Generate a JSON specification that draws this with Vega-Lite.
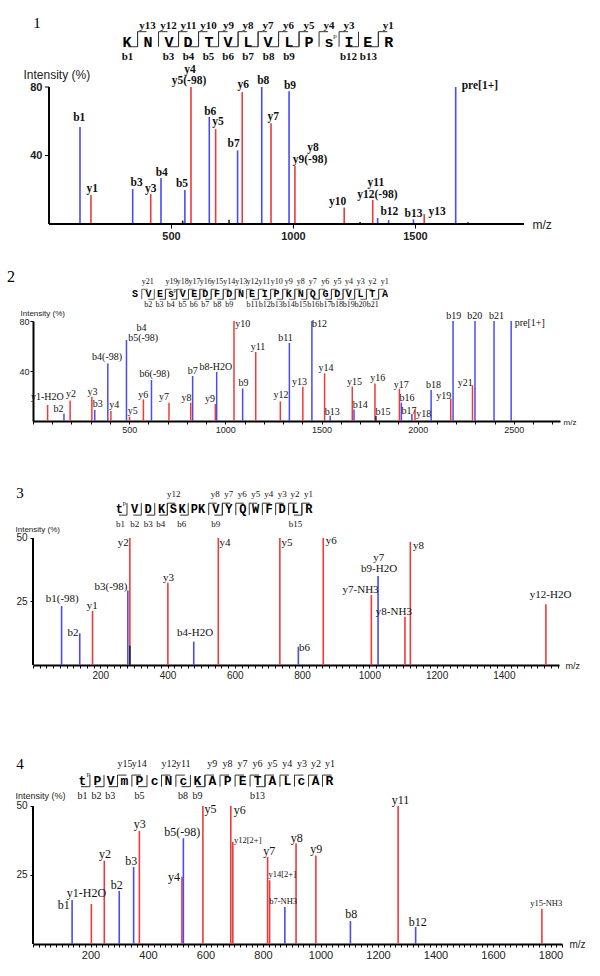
{
"$schema": "https://vega.github.io/schema/vega-lite/v6.json",
"background": "white",
"padding": {"left": 7, "top": 15, "right": 0, "bottom": 0},
"bounds": "flush",
"spacing": 97,
"config": {"view": {"stroke": null}, "axis": {"grid": false, "labelOverlap": false, "labelFlush": false, "tickColor": "#000", "domainColor": "#000", "labelColor": "#222", "titleColor": "#222", "titleFontWeight": "normal", "labelFont": "Liberation Sans", "titleFont": "Liberation Sans"}, "text": {"baseline": "middle", "align": "center", "color": "#111"}},
"datasets": {
"peaks": [
{"p":1,"mz":127,"i":56.6,"t":"b"},{"p":1,"mz":172,"i":17,"t":"y"},{"p":1,"mz":343,"i":20.4,"t":"b"},{"p":1,"mz":417,"i":17.5,"t":"y"},{"p":1,"mz":459,"i":26.8,"t":"b"},{"p":1,"mz":548,"i":2,"t":"o"},{"p":1,"mz":557,"i":19.8,"t":"b"},{"p":1,"mz":582,"i":80,"t":"y"},{"p":1,"mz":657,"i":62.5,"t":"b"},{"p":1,"mz":683,"i":55.4,"t":"y"},{"p":1,"mz":738,"i":2.5,"t":"o"},{"p":1,"mz":773,"i":43,"t":"b"},{"p":1,"mz":792,"i":77,"t":"y"},{"p":1,"mz":872,"i":80,"t":"b"},{"p":1,"mz":910,"i":58.8,"t":"y"},{"p":1,"mz":984,"i":77.5,"t":"b"},{"p":1,"mz":1008,"i":33.9,"t":"y"},{"p":1,"mz":1210,"i":9.7,"t":"y"},{"p":1,"mz":1275,"i":1.2,"t":"o"},{"p":1,"mz":1327,"i":14,"t":"y"},{"p":1,"mz":1347,"i":3.5,"t":"b"},{"p":1,"mz":1392,"i":2.3,"t":"b"},{"p":1,"mz":1494,"i":2.7,"t":"b"},{"p":1,"mz":1538,"i":5.8,"t":"y"},{"p":1,"mz":1667,"i":80,"t":"b"},{"p":1,"mz":1717,"i":1,"t":"o"},
{"p":2,"mz":76,"i":12.8,"t":"y"},{"p":2,"mz":161,"i":6.1,"t":"b"},{"p":2,"mz":193,"i":16.5,"t":"y"},{"p":2,"mz":306,"i":19.5,"t":"y"},{"p":2,"mz":321,"i":8.8,"t":"b"},{"p":2,"mz":389,"i":46.1,"t":"b"},{"p":2,"mz":405,"i":8,"t":"y"},{"p":2,"mz":486,"i":64.8,"t":"b"},{"p":2,"mz":502,"i":3.5,"t":"y"},{"p":2,"mz":574,"i":17.3,"t":"y"},{"p":2,"mz":616,"i":32.8,"t":"b"},{"p":2,"mz":707,"i":14.7,"t":"y"},{"p":2,"mz":820,"i":14.7,"t":"y"},{"p":2,"mz":830,"i":36,"t":"b"},{"p":2,"mz":948,"i":13.6,"t":"y"},{"p":2,"mz":955,"i":39.2,"t":"b"},{"p":2,"mz":1045,"i":80,"t":"y"},{"p":2,"mz":1090,"i":26.1,"t":"b"},{"p":2,"mz":1158,"i":55.2,"t":"y"},{"p":2,"mz":1286,"i":15.7,"t":"y"},{"p":2,"mz":1333,"i":62.4,"t":"b"},{"p":2,"mz":1403,"i":27.5,"t":"y"},{"p":2,"mz":1450,"i":80,"t":"b"},{"p":2,"mz":1516,"i":38.1,"t":"y"},{"p":2,"mz":1545,"i":4.3,"t":"b"},{"p":2,"mz":1660,"i":27.5,"t":"y"},{"p":2,"mz":1669,"i":9.3,"t":"b"},{"p":2,"mz":1778,"i":30.1,"t":"y"},{"p":2,"mz":1783,"i":4,"t":"o"},{"p":2,"mz":1905,"i":25.9,"t":"y"},{"p":2,"mz":1915,"i":14.7,"t":"b"},{"p":2,"mz":1970,"i":5.6,"t":"b"},{"p":2,"mz":1986,"i":9.3,"t":"y"},{"p":2,"mz":2070,"i":24.8,"t":"b"},{"p":2,"mz":2172,"i":18.1,"t":"y"},{"p":2,"mz":2184,"i":80,"t":"b"},{"p":2,"mz":2285,"i":28.5,"t":"y"},{"p":2,"mz":2298,"i":80,"t":"b"},{"p":2,"mz":2397,"i":80,"t":"b"},{"p":2,"mz":2486,"i":80,"t":"b"},
{"p":3,"mz":85,"i":23.2,"t":"b"},{"p":3,"mz":139,"i":12.5,"t":"b"},{"p":3,"mz":177,"i":21.3,"t":"y"},{"p":3,"mz":282,"i":29.3,"t":"b"},{"p":3,"mz":288,"i":50,"t":"y"},{"p":3,"mz":288,"i":7.6,"t":"o"},{"p":3,"mz":401,"i":32.4,"t":"y"},{"p":3,"mz":478,"i":9.2,"t":"b"},{"p":3,"mz":551,"i":50,"t":"y"},{"p":3,"mz":734,"i":50,"t":"y"},{"p":3,"mz":789,"i":7.2,"t":"b"},{"p":3,"mz":863,"i":50,"t":"y"},{"p":3,"mz":1006,"i":27.6,"t":"y"},{"p":3,"mz":1026,"i":35,"t":"b"},{"p":3,"mz":1106,"i":19,"t":"y"},{"p":3,"mz":1122,"i":48.5,"t":"y"},{"p":3,"mz":1525,"i":23.9,"t":"y"},
{"p":4,"mz":136,"i":15.9,"t":"b"},{"p":4,"mz":203,"i":14.5,"t":"y"},{"p":4,"mz":248,"i":30.2,"t":"y"},{"p":4,"mz":300,"i":19.2,"t":"b"},{"p":4,"mz":350,"i":27.9,"t":"b"},{"p":4,"mz":370,"i":41,"t":"y"},{"p":4,"mz":518,"i":24.4,"t":"y"},{"p":4,"mz":523,"i":38.3,"t":"b"},{"p":4,"mz":591,"i":50,"t":"y"},{"p":4,"mz":688,"i":50,"t":"y"},{"p":4,"mz":695,"i":37,"t":"y"},{"p":4,"mz":816,"i":31.5,"t":"y"},{"p":4,"mz":823,"i":23.1,"t":"y"},{"p":4,"mz":876,"i":13.4,"t":"b"},{"p":4,"mz":915,"i":36.5,"t":"y"},{"p":4,"mz":984,"i":32.1,"t":"y"},{"p":4,"mz":1104,"i":8.3,"t":"b"},{"p":4,"mz":1270,"i":50,"t":"y"},{"p":4,"mz":1331,"i":6.2,"t":"b"},{"p":4,"mz":1770,"i":12.8,"t":"y"}
],
"labels": [
{"p":1,"lx":124,"ly":61.7,"l":"b1"},{"p":1,"lx":177,"ly":20.4,"l":"y1"},{"p":1,"lx":359,"ly":24.1,"l":"b3"},{"p":1,"lx":417,"ly":20.4,"l":"y3"},{"p":1,"lx":462,"ly":30,"l":"b4"},{"p":1,"lx":545,"ly":23.2,"l":"b5"},{"p":1,"lx":578,"ly":89.8,"l":"y4"},{"p":1,"lx":574,"ly":83.3,"l":"y5(-98)"},{"p":1,"lx":661,"ly":65.6,"l":"b6"},{"p":1,"lx":693,"ly":59.4,"l":"y5"},{"p":1,"lx":757,"ly":46.7,"l":"b7"},{"p":1,"lx":796,"ly":81,"l":"y6"},{"p":1,"lx":878,"ly":83.5,"l":"b8"},{"p":1,"lx":919,"ly":62.3,"l":"y7"},{"p":1,"lx":988,"ly":80.6,"l":"b9"},{"p":1,"lx":1082,"ly":44.4,"l":"y8"},{"p":1,"lx":1070,"ly":37.6,"l":"y9(-98)"},{"p":1,"lx":1183,"ly":12.7,"l":"y10"},{"p":1,"lx":1340,"ly":24,"l":"y11"},{"p":1,"lx":1346,"ly":17,"l":"y12(-98)"},{"p":1,"lx":1395,"ly":6.8,"l":"b12"},{"p":1,"lx":1494,"ly":5.7,"l":"b13"},{"p":1,"lx":1591,"ly":7,"l":"y13"},{"p":1,"lx":1766,"ly":80.6,"l":"pre[1+]"},
{"p":2,"lx":75,"ly":19.5,"l":"y1-H2O"},{"p":2,"lx":132,"ly":9.3,"l":"b2"},{"p":2,"lx":198,"ly":21.3,"l":"y2"},{"p":2,"lx":309,"ly":23.5,"l":"y3"},{"p":2,"lx":337,"ly":13.3,"l":"b3"},{"p":2,"lx":385,"ly":51,"l":"b4(-98)"},{"p":2,"lx":422,"ly":12.8,"l":"y4"},{"p":2,"lx":564,"ly":74.1,"l":"b4"},{"p":2,"lx":573,"ly":66.1,"l":"b5(-98)"},{"p":2,"lx":519,"ly":8.3,"l":"y5"},{"p":2,"lx":573,"ly":20.8,"l":"y6"},{"p":2,"lx":632,"ly":37.3,"l":"b6(-98)"},{"p":2,"lx":681,"ly":18.9,"l":"y7"},{"p":2,"lx":798,"ly":18.1,"l":"y8"},{"p":2,"lx":830,"ly":39.7,"l":"b7"},{"p":2,"lx":920,"ly":17.3,"l":"y9"},{"p":2,"lx":951,"ly":43.5,"l":"b8-H2O"},{"p":2,"lx":1090,"ly":77.3,"l":"y10"},{"p":2,"lx":1094,"ly":30.7,"l":"b9"},{"p":2,"lx":1170,"ly":58.9,"l":"y11"},{"p":2,"lx":1290,"ly":20.5,"l":"y12"},{"p":2,"lx":1313,"ly":66.4,"l":"b11"},{"p":2,"lx":1385,"ly":31.2,"l":"y13"},{"p":2,"lx":1490,"ly":77.6,"l":"b12"},{"p":2,"lx":1524,"ly":42.1,"l":"y14"},{"p":2,"lx":1556,"ly":7.5,"l":"b13"},{"p":2,"lx":1672,"ly":31.5,"l":"y15"},{"p":2,"lx":1701,"ly":12.8,"l":"b14"},{"p":2,"lx":1792,"ly":34.4,"l":"y16"},{"p":2,"lx":1820,"ly":7.2,"l":"b15"},{"p":2,"lx":1915,"ly":29.1,"l":"y17"},{"p":2,"lx":1944,"ly":18.7,"l":"b16"},{"p":2,"lx":1955,"ly":8.3,"l":"b17"},{"p":2,"lx":2031,"ly":5.6,"l":"y18"},{"p":2,"lx":2082,"ly":28.5,"l":"b18"},{"p":2,"lx":2135,"ly":20,"l":"y19"},{"p":2,"lx":2188,"ly":84,"l":"b19"},{"p":2,"lx":2248,"ly":30.7,"l":"y21"},{"p":2,"lx":2297,"ly":84,"l":"b20"},{"p":2,"lx":2410,"ly":84,"l":"b21"},{"p":2,"lx":2583,"ly":78.1,"l":"pre[1+]"},
{"p":3,"lx":87,"ly":26,"l":"b1(-98)"},{"p":3,"lx":119,"ly":12.5,"l":"b2"},{"p":3,"lx":176,"ly":23.4,"l":"y1"},{"p":3,"lx":232,"ly":30.7,"l":"b3(-98)"},{"p":3,"lx":268,"ly":48.2,"l":"y2"},{"p":3,"lx":403,"ly":34.4,"l":"y3"},{"p":3,"lx":482,"ly":12.7,"l":"b4-H2O"},{"p":3,"lx":571,"ly":48.2,"l":"y4"},{"p":3,"lx":755,"ly":48.2,"l":"y5"},{"p":3,"lx":807,"ly":6.6,"l":"b6"},{"p":3,"lx":887,"ly":48.8,"l":"y6"},{"p":3,"lx":1028,"ly":42,"l":"y7"},{"p":3,"lx":1029,"ly":37.7,"l":"b9-H2O"},{"p":3,"lx":974,"ly":29.5,"l":"y7-NH3"},{"p":3,"lx":1073,"ly":21,"l":"y8-NH3"},{"p":3,"lx":1146,"ly":46.9,"l":"y8"},{"p":3,"lx":1539,"ly":27.6,"l":"y12-H2O"},
{"p":4,"lx":107,"ly":14.1,"l":"b1"},{"p":4,"lx":186,"ly":18.6,"l":"y1-H2O"},{"p":4,"lx":250,"ly":32.6,"l":"y2"},{"p":4,"lx":291,"ly":21.4,"l":"b2"},{"p":4,"lx":342,"ly":30.2,"l":"b3"},{"p":4,"lx":371,"ly":43.5,"l":"y3"},{"p":4,"lx":490,"ly":24.4,"l":"y4"},{"p":4,"lx":519,"ly":40.7,"l":"b5(-98)"},{"p":4,"lx":617,"ly":48.9,"l":"y5"},{"p":4,"lx":719,"ly":48.6,"l":"y6"},{"p":4,"lx":747,"ly":37.7,"l":"y12[2+]"},{"p":4,"lx":822,"ly":33.8,"l":"y7"},{"p":4,"lx":867,"ly":25.3,"l":"y14[2+]"},{"p":4,"lx":870,"ly":15.7,"l":"b7-NH3"},{"p":4,"lx":917,"ly":38.3,"l":"y8"},{"p":4,"lx":985,"ly":34.4,"l":"y9"},{"p":4,"lx":1107,"ly":10.8,"l":"b8"},{"p":4,"lx":1278,"ly":52.2,"l":"y11"},{"p":4,"lx":1338,"ly":8.1,"l":"b12"},{"p":4,"lx":1785,"ly":14.7,"l":"y15-NH3"}
],
"seq": [
{"p":1,"x":320,"aa":"K"},{"p":1,"x":406,"aa":"N"},{"p":1,"x":492,"aa":"V"},{"p":1,"x":570,"aa":"D"},{"p":1,"x":656,"aa":"T"},{"p":1,"x":734,"aa":"V"},{"p":1,"x":816,"aa":"L"},{"p":1,"x":898,"aa":"V"},{"p":1,"x":984,"aa":"L"},{"p":1,"x":1066,"aa":"P"},{"p":1,"x":1148,"aa":"s","sup":"p"},{"p":1,"x":1230,"aa":"I"},{"p":1,"x":1307,"aa":"E"},{"p":1,"x":1393,"aa":"R"},
{"p":2,"x":530,"aa":"S"},{"p":2,"x":601,"aa":"V"},{"p":2,"x":660,"aa":"E"},{"p":2,"x":717,"aa":"s","sup":"p"},{"p":2,"x":778,"aa":"V"},{"p":2,"x":839,"aa":"E"},{"p":2,"x":896,"aa":"D"},{"p":2,"x":957,"aa":"F"},{"p":2,"x":1021,"aa":"D"},{"p":2,"x":1082,"aa":"N"},{"p":2,"x":1139,"aa":"E"},{"p":2,"x":1205,"aa":"I"},{"p":2,"x":1266,"aa":"P"},{"p":2,"x":1330,"aa":"K"},{"p":2,"x":1392,"aa":"N"},{"p":2,"x":1455,"aa":"Q"},{"p":2,"x":1521,"aa":"G"},{"p":2,"x":1582,"aa":"D"},{"p":2,"x":1642,"aa":"V"},{"p":2,"x":1703,"aa":"L"},{"p":2,"x":1764,"aa":"T"},{"p":2,"x":1830,"aa":"A"},
{"p":3,"x":257,"aa":"t","sup":"p"},{"p":3,"x":302,"aa":"V"},{"p":3,"x":342,"aa":"D"},{"p":3,"x":382,"aa":"K"},{"p":3,"x":417,"aa":"S"},{"p":3,"x":443,"aa":"K"},{"p":3,"x":480,"aa":"P"},{"p":3,"x":501,"aa":"K"},{"p":3,"x":544,"aa":"V"},{"p":3,"x":582,"aa":"Y"},{"p":3,"x":624,"aa":"Q"},{"p":3,"x":662,"aa":"W"},{"p":3,"x":702,"aa":"F"},{"p":3,"x":741,"aa":"D"},{"p":3,"x":779,"aa":"L"},{"p":3,"x":820,"aa":"R"},
{"p":4,"x":172,"aa":"t","sup":"p"},{"p":4,"x":224,"aa":"P"},{"p":4,"x":270,"aa":"V"},{"p":4,"x":318,"aa":"m"},{"p":4,"x":370,"aa":"P"},{"p":4,"x":423,"aa":"c"},{"p":4,"x":471,"aa":"N"},{"p":4,"x":523,"aa":"c"},{"p":4,"x":572,"aa":"K"},{"p":4,"x":624,"aa":"A"},{"p":4,"x":677,"aa":"P"},{"p":4,"x":729,"aa":"E"},{"p":4,"x":781,"aa":"T"},{"p":4,"x":833,"aa":"A"},{"p":4,"x":885,"aa":"L"},{"p":4,"x":934,"aa":"c"},{"p":4,"x":983,"aa":"A"},{"p":4,"x":1031,"aa":"R"}
],
"ions": [
{"p":1,"x":363,"ion":"y","l":"y13"},{"p":1,"x":449,"ion":"y","l":"y12"},{"p":1,"x":531,"ion":"y","l":"y11"},{"p":1,"x":613,"ion":"y","l":"y10"},{"p":1,"x":695,"ion":"y","l":"y9"},{"p":1,"x":775,"ion":"y","l":"y8"},{"p":1,"x":857,"ion":"y","l":"y7"},{"p":1,"x":941,"ion":"y","l":"y6"},{"p":1,"x":1025,"ion":"y","l":"y5"},{"p":1,"x":1107,"ion":"y","l":"y4"},{"p":1,"x":1189,"ion":"y","l":"y3"},{"p":1,"x":1350,"ion":"y","l":"y1"},
{"p":1,"x":363,"ion":"b","l":"b1"},{"p":1,"x":531,"ion":"b","l":"b3"},{"p":1,"x":613,"ion":"b","l":"b4"},{"p":1,"x":695,"ion":"b","l":"b5"},{"p":1,"x":775,"ion":"b","l":"b6"},{"p":1,"x":857,"ion":"b","l":"b7"},{"p":1,"x":941,"ion":"b","l":"b8"},{"p":1,"x":1025,"ion":"b","l":"b9"},{"p":1,"x":1268.5,"ion":"b","l":"b12"},{"p":1,"x":1350,"ion":"b","l":"b13"},
{"p":2,"x":565.5,"ion":"y","l":"y21"},{"p":2,"x":688.5,"ion":"y","l":"y19"},{"p":2,"x":747.5,"ion":"y","l":"y18"},{"p":2,"x":808.5,"ion":"y","l":"y17"},{"p":2,"x":867.5,"ion":"y","l":"y16"},{"p":2,"x":926.5,"ion":"y","l":"y15"},{"p":2,"x":989,"ion":"y","l":"y14"},{"p":2,"x":1051.5,"ion":"y","l":"y13"},{"p":2,"x":1110.5,"ion":"y","l":"y12"},{"p":2,"x":1172,"ion":"y","l":"y11"},{"p":2,"x":1235.5,"ion":"y","l":"y10"},{"p":2,"x":1298,"ion":"y","l":"y9"},{"p":2,"x":1361,"ion":"y","l":"y8"},{"p":2,"x":1423.5,"ion":"y","l":"y7"},{"p":2,"x":1488,"ion":"y","l":"y6"},{"p":2,"x":1551.5,"ion":"y","l":"y5"},{"p":2,"x":1612,"ion":"y","l":"y4"},{"p":2,"x":1672.5,"ion":"y","l":"y3"},{"p":2,"x":1733.5,"ion":"y","l":"y2"},{"p":2,"x":1797,"ion":"y","l":"y1"},
{"p":2,"x":630.5,"ion":"b","l":"b2"},{"p":2,"x":688.5,"ion":"b","l":"b3"},{"p":2,"x":747.5,"ion":"b","l":"b4"},{"p":2,"x":808.5,"ion":"b","l":"b5"},{"p":2,"x":867.5,"ion":"b","l":"b6"},{"p":2,"x":926.5,"ion":"b","l":"b7"},{"p":2,"x":989,"ion":"b","l":"b8"},{"p":2,"x":1051.5,"ion":"b","l":"b9"},{"p":2,"x":1172,"ion":"b","l":"b11"},{"p":2,"x":1235.5,"ion":"b","l":"b12"},{"p":2,"x":1298,"ion":"b","l":"b13"},{"p":2,"x":1361,"ion":"b","l":"b14"},{"p":2,"x":1423.5,"ion":"b","l":"b15"},{"p":2,"x":1488,"ion":"b","l":"b16"},{"p":2,"x":1551.5,"ion":"b","l":"b17"},{"p":2,"x":1612,"ion":"b","l":"b18"},{"p":2,"x":1672.5,"ion":"b","l":"b19"},{"p":2,"x":1733.5,"ion":"b","l":"b20"},{"p":2,"x":1797,"ion":"b","l":"b21"},
{"p":3,"x":399.5,"ion":"y","l":"y12"},{"p":3,"x":522.5,"ion":"y","l":"y8"},{"p":3,"x":563,"ion":"y","l":"y7"},{"p":3,"x":603,"ion":"y","l":"y6"},{"p":3,"x":643,"ion":"y","l":"y5"},{"p":3,"x":682,"ion":"y","l":"y4"},{"p":3,"x":721.5,"ion":"y","l":"y3"},{"p":3,"x":760,"ion":"y","l":"y2"},{"p":3,"x":799.5,"ion":"y","l":"y1"},
{"p":3,"x":279.5,"ion":"b","l":"b1"},{"p":3,"x":322,"ion":"b","l":"b2"},{"p":3,"x":362,"ion":"b","l":"b3"},{"p":3,"x":399.5,"ion":"b","l":"b4"},{"p":3,"x":461.5,"ion":"b","l":"b6"},{"p":3,"x":563,"ion":"b","l":"b9"},{"p":3,"x":799.5,"ion":"b","l":"b15"},
{"p":4,"x":294,"ion":"y","l":"y15"},{"p":4,"x":344,"ion":"y","l":"y14"},{"p":4,"x":447,"ion":"y","l":"y12"},{"p":4,"x":497,"ion":"y","l":"y11"},{"p":4,"x":598,"ion":"y","l":"y9"},{"p":4,"x":650.5,"ion":"y","l":"y8"},{"p":4,"x":703,"ion":"y","l":"y7"},{"p":4,"x":755,"ion":"y","l":"y6"},{"p":4,"x":807,"ion":"y","l":"y5"},{"p":4,"x":859,"ion":"y","l":"y4"},{"p":4,"x":909.5,"ion":"y","l":"y3"},{"p":4,"x":958.5,"ion":"y","l":"y2"},{"p":4,"x":1007,"ion":"y","l":"y1"},
{"p":4,"x":198,"ion":"b","l":"b1"},{"p":4,"x":247,"ion":"b","l":"b2"},{"p":4,"x":294,"ion":"b","l":"b3"},{"p":4,"x":396.5,"ion":"b","l":"b5"},{"p":4,"x":547.5,"ion":"b","l":"b8"},{"p":4,"x":598,"ion":"b","l":"b9"},{"p":4,"x":807,"ion":"b","l":"b13"}
],
"yaxis1": [{"x": -4, "x2": 4, "y": 0, "y2": 80}],
"yticks1": [{"x": -16.4, "x2": 0, "y": 40}, {"x": -16.4, "x2": 0, "y": 80}]
},
"vconcat": [
{
"width": 491, "height": 137,
"layer": [
{"data": {"name": "peaks"}, "transform": [{"filter": "datum.p==1"}], "mark": {"type": "rule", "strokeWidth": 1.6},
 "encoding": {
  "x": {"field": "mz", "type": "quantitative", "scale": {"domain": [-65.6, 1947], "nice": false, "zero": false},
   "axis": {"values": [500, 1000, 1500], "format": "d", "labelOverlap": false, "domain": false, "tickSize": 4, "labelFontSize": 11, "labelFontWeight": "bold", "labelPadding": 2, "title": "m/z", "titleX": 499, "titleY": 0, "titleAlign": "left", "titleBaseline": "middle", "titleFontSize": 12}},
  "y": {"field": "i", "type": "quantitative", "scale": {"domain": [0, 80], "nice": false, "zero": false},
   "axis": {"values": [40, 80], "format": "d", "labelOverlap": false, "domain": false, "tickSize": 4, "tickOpacity": 0, "labelFontSize": 11, "labelFontWeight": "bold", "labelPadding": -13, "title": "Intensity (%)", "titleAngle": 0, "titleX": -10, "titleY": -13, "titleAlign": "left", "titleBaseline": "middle", "titleFontSize": 12}},
  "y2": {"datum": 0},
  "color": {"field": "t", "type": "nominal", "scale": {"domain": ["b", "y", "o"], "range": ["#4b4bf2", "#f03a3a", "#222222"]}, "legend": null}}},
{"data": {"name": "yaxis1"}, "mark": {"type": "rect", "color": "#000"},
 "encoding": {"x": {"field": "x", "type": "quantitative"}, "x2": {"field": "x2"}, "y": {"field": "y", "type": "quantitative"}, "y2": {"field": "y2"}}},
{"data": {"values": [{}]}, "mark": {"type": "rule", "strokeWidth": 2, "color": "#000"}, "encoding": {"x": {"datum": 0}, "x2": {"datum": 1947}, "y": {"datum": 0}}},
{"data": {"name": "yticks1"}, "mark": {"type": "rule", "strokeWidth": 1, "color": "#000"}, "encoding": {"x": {"field": "x", "type": "quantitative"}, "x2": {"field": "x2"}, "y": {"field": "y", "type": "quantitative"}}},
{"data": {"name": "labels"}, "transform": [{"filter": "datum.p==1"}], "mark": {"type": "text", "font": "Liberation Serif", "fontSize": 11.5, "fontWeight": "bold"},
 "encoding": {"x": {"field": "lx", "type": "quantitative"}, "y": {"field": "ly", "type": "quantitative"}, "text": {"field": "l"}}},
{"data": {"name": "seq"}, "transform": [{"filter": "datum.p==1"}], "mark": {"type": "text", "font": "Liberation Mono", "fontSize": 15, "fontWeight": "bold", "color": "#000"},
 "encoding": {"x": {"field": "x", "type": "quantitative"}, "y": {"datum": 106.5}, "text": {"field": "aa"}}},
{"data": {"name": "seq"}, "transform": [{"filter": "datum.p==1 && datum.sup"}], "mark": {"type": "text", "font": "Liberation Serif", "fontSize": 7, "dx": 6, "dy": -6},
 "encoding": {"x": {"field": "x", "type": "quantitative"}, "y": {"datum": 106.5}, "text": {"field": "sup"}}},
{"data": {"name": "ions"}, "transform": [{"filter": "datum.p==1"}], "mark": {"type": "rule", "strokeWidth": 1, "color": "#333"},
 "encoding": {"x": {"field": "x", "type": "quantitative"}, "y": {"datum": 103.5}, "y2": {"datum": 112.3}}},
{"data": {"name": "ions"}, "transform": [{"filter": "datum.p==1 && datum.ion=='y'"}], "mark": {"type": "rule", "strokeWidth": 1, "color": "#333", "x2Offset": 9},
 "encoding": {"x": {"field": "x", "type": "quantitative"}, "x2": {"field": "x"}, "y": {"datum": 112.3}}},
{"data": {"name": "ions"}, "transform": [{"filter": "datum.p==1 && datum.ion=='b'"}], "mark": {"type": "rule", "strokeWidth": 1, "color": "#333", "xOffset": -9},
 "encoding": {"x": {"field": "x", "type": "quantitative"}, "x2": {"field": "x"}, "y": {"datum": 103.5}}},
{"data": {"name": "ions"}, "transform": [{"filter": "datum.p==1 && datum.ion=='y'"}], "mark": {"type": "text", "font": "Liberation Serif", "fontSize": 11, "fontWeight": "bold", "dx": 10},
 "encoding": {"x": {"field": "x", "type": "quantitative"}, "y": {"datum": 115.8}, "text": {"field": "l"}}},
{"data": {"name": "ions"}, "transform": [{"filter": "datum.p==1 && datum.ion=='b'"}], "mark": {"type": "text", "font": "Liberation Serif", "fontSize": 11, "fontWeight": "bold", "dx": -10},
 "encoding": {"x": {"field": "x", "type": "quantitative"}, "y": {"datum": 97.8}, "text": {"field": "l"}}},
{"data": {"values": [{}]}, "mark": {"type": "text", "text": "1", "font": "Liberation Serif", "fontSize": 15, "color": "#000"}, "encoding": {"x": {"datum": -49}, "y": {"datum": 117.4}}}
]
},
{
"width": 527, "height": 100,
"layer": [
{"data": {"name": "peaks"}, "transform": [{"filter": "datum.p==2"}], "mark": {"type": "rule", "strokeWidth": 1.5},
 "encoding": {
  "x": {"field": "mz", "type": "quantitative", "scale": {"domain": [0, 2740], "nice": false, "zero": false},
   "axis": {"tickCount": 28, "format": "d", "labelExpr": "datum.value % 500 === 0 && datum.value > 0 ? datum.label : ''", "labelOverlap": false, "domainWidth": 2, "tickSize": 3, "labelFontSize": 9, "labelPadding": 1, "title": "m/z", "titleX": 530, "titleY": 1, "titleAlign": "left", "titleBaseline": "middle", "titleFontSize": 8}},
  "y": {"field": "i", "type": "quantitative", "scale": {"domain": [0, 80], "nice": false, "zero": false},
   "axis": {"values": [40, 80], "format": "d", "labelOverlap": false, "domainWidth": 2, "tickSize": 3, "labelFontSize": 9, "labelPadding": 1, "title": "Intensity (%)", "titleAngle": 0, "titleX": -13, "titleY": -8, "titleAlign": "left", "titleBaseline": "middle", "titleFontSize": 8}},
  "y2": {"datum": 0},
  "color": {"field": "t", "type": "nominal", "scale": {"domain": ["b", "y", "o"], "range": ["#4b4bf2", "#f03a3a", "#222222"]}, "legend": null}}},
{"data": {"name": "labels"}, "transform": [{"filter": "datum.p==2"}], "mark": {"type": "text", "font": "Liberation Serif", "fontSize": 10},
 "encoding": {"x": {"field": "lx", "type": "quantitative"}, "y": {"field": "ly", "type": "quantitative"}, "text": {"field": "l"}}},
{"data": {"name": "seq"}, "transform": [{"filter": "datum.p==2"}], "mark": {"type": "text", "font": "Liberation Mono", "fontSize": 10, "fontWeight": "bold", "color": "#000"},
 "encoding": {"x": {"field": "x", "type": "quantitative"}, "y": {"datum": 101.4}, "text": {"field": "aa"}}},
{"data": {"name": "seq"}, "transform": [{"filter": "datum.p==2 && datum.sup"}], "mark": {"type": "text", "font": "Liberation Serif", "fontSize": 6, "dx": 4, "dy": -4},
 "encoding": {"x": {"field": "x", "type": "quantitative"}, "y": {"datum": 101.4}, "text": {"field": "sup"}}},
{"data": {"name": "ions"}, "transform": [{"filter": "datum.p==2"}], "mark": {"type": "rule", "strokeWidth": 0.8, "color": "#333"},
 "encoding": {"x": {"field": "x", "type": "quantitative"}, "y": {"datum": 97.4}, "y2": {"datum": 105.4}}},
{"data": {"name": "ions"}, "transform": [{"filter": "datum.p==2 && datum.ion=='y'"}], "mark": {"type": "rule", "strokeWidth": 0.8, "color": "#333", "x2Offset": 6},
 "encoding": {"x": {"field": "x", "type": "quantitative"}, "x2": {"field": "x"}, "y": {"datum": 105.4}}},
{"data": {"name": "ions"}, "transform": [{"filter": "datum.p==2 && datum.ion=='b'"}], "mark": {"type": "rule", "strokeWidth": 0.8, "color": "#333", "xOffset": -6},
 "encoding": {"x": {"field": "x", "type": "quantitative"}, "x2": {"field": "x"}, "y": {"datum": 97.4}}},
{"data": {"name": "ions"}, "transform": [{"filter": "datum.p==2 && datum.ion=='y'"}], "mark": {"type": "text", "font": "Liberation Serif", "fontSize": 8, "dx": 6},
 "encoding": {"x": {"field": "x", "type": "quantitative"}, "y": {"datum": 111.2}, "text": {"field": "l"}}},
{"data": {"name": "ions"}, "transform": [{"filter": "datum.p==2 && datum.ion=='b'"}], "mark": {"type": "text", "font": "Liberation Serif", "fontSize": 8, "dx": -6},
 "encoding": {"x": {"field": "x", "type": "quantitative"}, "y": {"datum": 92.8}, "text": {"field": "l"}}},
{"data": {"values": [{}]}, "mark": {"type": "text", "text": "2", "font": "Liberation Serif", "fontSize": 16, "color": "#000"}, "encoding": {"x": {"datum": -114}, "y": {"datum": 115.2}}}
]
},
{
"width": 526, "height": 147,
"layer": [
{"data": {"name": "peaks"}, "transform": [{"filter": "datum.p==3"}], "mark": {"type": "rule", "strokeWidth": 1.6},
 "encoding": {
  "x": {"field": "mz", "type": "quantitative", "scale": {"domain": [0, 1564], "nice": false, "zero": false},
   "axis": {"tickCount": 78, "format": "d", "labelExpr": "datum.value % 200 === 0 && datum.value > 0 ? datum.label : ''", "labelOverlap": false, "domainWidth": 2, "tickSize": 3, "labelFontSize": 10, "labelPadding": 2, "title": "m/z", "titleX": 532, "titleY": 0, "titleAlign": "left", "titleBaseline": "middle", "titleFontSize": 9}},
  "y": {"field": "i", "type": "quantitative", "scale": {"domain": [0, 57.87], "nice": false, "zero": false},
   "axis": {"values": [25, 50], "format": "d", "labelOverlap": false, "domain": false, "tickSize": 3, "labelFontSize": 10, "labelPadding": 3, "title": "Intensity (%)", "titleAngle": 0, "titleX": -18, "titleY": 11, "titleAlign": "left", "titleBaseline": "middle", "titleFontSize": 8}},
  "y2": {"datum": 0},
  "color": {"field": "t", "type": "nominal", "scale": {"domain": ["b", "y", "o"], "range": ["#4b4bf2", "#f03a3a", "#222222"]}, "legend": null}}},
{"data": {"values": [{}]}, "mark": {"type": "rule", "strokeWidth": 2, "color": "#000"}, "encoding": {"x": {"datum": 0}, "y": {"datum": 0}, "y2": {"datum": 50}}},
{"data": {"name": "labels"}, "transform": [{"filter": "datum.p==3"}], "mark": {"type": "text", "font": "Liberation Serif", "fontSize": 11},
 "encoding": {"x": {"field": "lx", "type": "quantitative"}, "y": {"field": "ly", "type": "quantitative"}, "text": {"field": "l"}}},
{"data": {"name": "seq"}, "transform": [{"filter": "datum.p==3"}], "mark": {"type": "text", "font": "Liberation Mono", "fontSize": 12, "fontWeight": "bold", "color": "#000"},
 "encoding": {"x": {"field": "x", "type": "quantitative"}, "y": {"datum": 61.4}, "text": {"field": "aa"}}},
{"data": {"name": "seq"}, "transform": [{"filter": "datum.p==3 && datum.sup"}], "mark": {"type": "text", "font": "Liberation Serif", "fontSize": 7, "dx": 5, "dy": -6},
 "encoding": {"x": {"field": "x", "type": "quantitative"}, "y": {"datum": 61.4}, "text": {"field": "sup"}}},
{"data": {"name": "ions"}, "transform": [{"filter": "datum.p==3"}], "mark": {"type": "rule", "strokeWidth": 1, "color": "#333"},
 "encoding": {"x": {"field": "x", "type": "quantitative"}, "y": {"datum": 59}, "y2": {"datum": 63.7}}},
{"data": {"name": "ions"}, "transform": [{"filter": "datum.p==3 && datum.ion=='y'"}], "mark": {"type": "rule", "strokeWidth": 1, "color": "#333", "x2Offset": 8},
 "encoding": {"x": {"field": "x", "type": "quantitative"}, "x2": {"field": "x"}, "y": {"datum": 63.7}}},
{"data": {"name": "ions"}, "transform": [{"filter": "datum.p==3 && datum.ion=='b'"}], "mark": {"type": "rule", "strokeWidth": 1, "color": "#333", "xOffset": -8},
 "encoding": {"x": {"field": "x", "type": "quantitative"}, "x2": {"field": "x"}, "y": {"datum": 59}}},
{"data": {"name": "ions"}, "transform": [{"filter": "datum.p==3 && datum.ion=='y'"}], "mark": {"type": "text", "font": "Liberation Serif", "fontSize": 9, "dx": 6.5},
 "encoding": {"x": {"field": "x", "type": "quantitative"}, "y": {"datum": 67.3}, "text": {"field": "l"}}},
{"data": {"name": "ions"}, "transform": [{"filter": "datum.p==3 && datum.ion=='b'"}], "mark": {"type": "text", "font": "Liberation Serif", "fontSize": 9, "dx": -6.5},
 "encoding": {"x": {"field": "x", "type": "quantitative"}, "y": {"datum": 55.6}, "text": {"field": "l"}}},
{"data": {"values": [{}]}, "mark": {"type": "text", "text": "3", "font": "Liberation Serif", "fontSize": 15, "color": "#000"}, "encoding": {"x": {"datum": -38.7}, "y": {"datum": 67.7}}}
]
},
{
"width": 529, "height": 182,
"layer": [
{"data": {"name": "peaks"}, "transform": [{"filter": "datum.p==4"}], "mark": {"type": "rule", "strokeWidth": 1.6},
 "encoding": {
  "x": {"field": "mz", "type": "quantitative", "scale": {"domain": [0, 1840], "nice": false, "zero": false},
   "axis": {"tickCount": 92, "format": "d", "labelExpr": "datum.value % 200 === 0 && datum.value > 0 ? datum.label : ''", "labelOverlap": false, "domainWidth": 2, "tickSize": 3, "labelFontSize": 11, "labelPadding": 2, "title": "m/z", "titleX": 536, "titleY": 0, "titleAlign": "left", "titleBaseline": "middle", "titleFontSize": 10}},
  "y": {"field": "i", "type": "quantitative", "scale": {"domain": [0, 65.94], "nice": false, "zero": false},
   "axis": {"values": [25, 50], "format": "d", "labelOverlap": false, "domain": false, "tickSize": 3, "labelFontSize": 10, "labelPadding": 3, "title": "Intensity (%)", "titleAngle": 0, "titleX": -18, "titleY": 33, "titleAlign": "left", "titleBaseline": "middle", "titleFontSize": 9}},
  "y2": {"datum": 0},
  "color": {"field": "t", "type": "nominal", "scale": {"domain": ["b", "y", "o"], "range": ["#4b4bf2", "#f03a3a", "#222222"]}, "legend": null}}},
{"data": {"values": [{}]}, "mark": {"type": "rule", "strokeWidth": 2, "color": "#000"}, "encoding": {"x": {"datum": 0}, "y": {"datum": 0}, "y2": {"datum": 50}}},
{"data": {"name": "labels"}, "transform": [{"filter": "datum.p==4"}], "mark": {"type": "text", "font": "Liberation Serif"},
 "encoding": {"x": {"field": "lx", "type": "quantitative"}, "y": {"field": "ly", "type": "quantitative"}, "text": {"field": "l"},
  "size": {"condition": {"test": "indexof(datum.l, '[') >= 0 || indexof(datum.l, 'NH3') >= 0", "value": 8.5}, "value": 12}}},
{"data": {"name": "seq"}, "transform": [{"filter": "datum.p==4"}], "mark": {"type": "text", "font": "Liberation Mono", "fontSize": 13, "fontWeight": "bold", "color": "#000"},
 "encoding": {"x": {"field": "x", "type": "quantitative"}, "y": {"datum": 59.2}, "text": {"field": "aa"}}},
{"data": {"name": "seq"}, "transform": [{"filter": "datum.p==4 && datum.sup"}], "mark": {"type": "text", "font": "Liberation Serif", "fontSize": 7, "dx": 6, "dy": -7},
 "encoding": {"x": {"field": "x", "type": "quantitative"}, "y": {"datum": 59.2}, "text": {"field": "sup"}}},
{"data": {"name": "ions"}, "transform": [{"filter": "datum.p==4"}], "mark": {"type": "rule", "strokeWidth": 1, "color": "#333"},
 "encoding": {"x": {"field": "x", "type": "quantitative"}, "y": {"datum": 57}, "y2": {"datum": 61.2}}},
{"data": {"name": "ions"}, "transform": [{"filter": "datum.p==4 && datum.ion=='y'"}], "mark": {"type": "rule", "strokeWidth": 1, "color": "#333", "x2Offset": 9},
 "encoding": {"x": {"field": "x", "type": "quantitative"}, "x2": {"field": "x"}, "y": {"datum": 61.2}}},
{"data": {"name": "ions"}, "transform": [{"filter": "datum.p==4 && datum.ion=='b'"}], "mark": {"type": "rule", "strokeWidth": 1, "color": "#333", "xOffset": -9},
 "encoding": {"x": {"field": "x", "type": "quantitative"}, "x2": {"field": "x"}, "y": {"datum": 57}}},
{"data": {"name": "ions"}, "transform": [{"filter": "datum.p==4 && datum.ion=='y'"}], "mark": {"type": "text", "font": "Liberation Serif", "fontSize": 10, "dx": 7.4},
 "encoding": {"x": {"field": "x", "type": "quantitative"}, "y": {"datum": 65.1}, "text": {"field": "l"}}},
{"data": {"name": "ions"}, "transform": [{"filter": "datum.p==4 && datum.ion=='b'"}], "mark": {"type": "text", "font": "Liberation Serif", "fontSize": 10, "dx": -7.4},
 "encoding": {"x": {"field": "x", "type": "quantitative"}, "y": {"datum": 53.7}, "text": {"field": "l"}}},
{"data": {"values": [{}]}, "mark": {"type": "text", "text": "4", "font": "Liberation Serif", "fontSize": 15, "color": "#000"}, "encoding": {"x": {"datum": -45}, "y": {"datum": 65.2}}}
]
}
]
}
